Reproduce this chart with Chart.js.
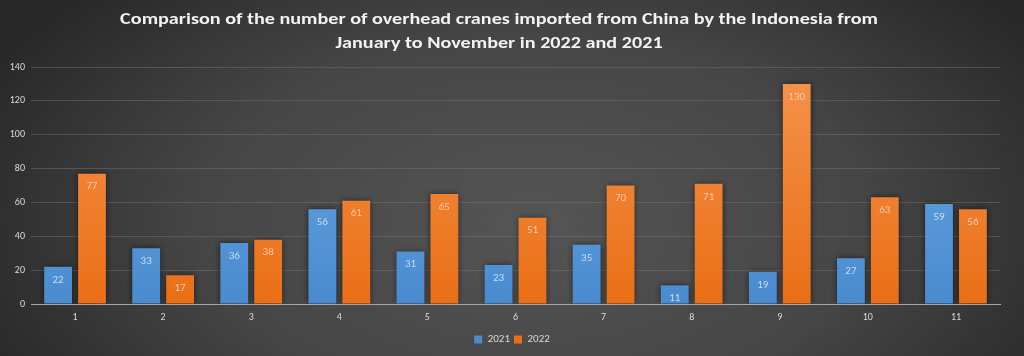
<!DOCTYPE html>
<html><head><meta charset="utf-8">
<script src="https://cdn.jsdelivr.net/npm/chart.js@4.4.0/dist/chart.umd.min.js"></script>
<style>html,body{margin:0;padding:0;background:#3a3a3a;}#wrap{width:1024px;height:356px;}</style>
</head><body><div id="wrap"><canvas id="c" width="1024" height="356"></canvas></div>
<script>
const categories = ['1','2','3','4','5','6','7','8','9','10','11'];
const series2021 = [22,33,36,56,31,23,35,11,19,27,59];
const series2022 = [77,17,38,61,65,51,70,71,130,63,56];
const seriesNames = ['2021','2022'];
const titleLines = ['Comparison of the number of overhead cranes imported from China by the Indonesia from','January to November in 2022 and 2021'];
const FONT = '"Carlito","Open Sans",sans-serif';

const bgPlugin = {
  id:'bg',
  beforeDraw(chart){
    const {ctx,width,height} = chart;
    ctx.save();
    ctx.fillStyle = '#2b2b2b';
    ctx.fillRect(0,0,width,height);
    ctx.translate(width*0.52, height*0.62);
    ctx.scale(1, height/width*1.6);
    const g = ctx.createRadialGradient(0,0,0,0,0,width*0.6);
    g.addColorStop(0,'#555555');
    g.addColorStop(0.55,'#454545');
    g.addColorStop(1,'#272727');
    ctx.fillStyle = g;
    ctx.fillRect(-width, -width, width*2, width*2);
    ctx.restore();
  }
};
const titlePlugin = {
  id:'ttl',
  afterDraw(chart){
    const ctx = chart.ctx;
    ctx.save();
    ctx.fillStyle = '#f2f2f2';
    ctx.font = 'bold 16px ' + FONT;
    ctx.textAlign = 'center';
    ctx.textBaseline = 'middle';
    const ys = [20, 44];
    titleLines.forEach((t,i)=>{
      ctx.save();
      ctx.translate(499, ys[i]);
      ctx.scale(1.26,1);
      ctx.fillText(t, 0, 0);
      ctx.restore();
    });
    ctx.restore();
  }
};
const shadowPlugin = {
  id:'shadow',
  beforeDatasetsDraw(chart){
    chart.ctx.save();
    chart.ctx.shadowColor='rgba(0,0,0,0.55)';
    chart.ctx.shadowBlur=6;
    chart.ctx.shadowOffsetX=0;
    chart.ctx.shadowOffsetY=0;
  },
  afterDatasetsDraw(chart){
    chart.ctx.restore();
    const ctx = chart.ctx;
    ctx.save();
    ctx.font = '11px ' + FONT;
    ctx.textAlign='center';
    ctx.textBaseline='middle';
    chart.data.datasets.forEach((ds,i)=>{
      const meta = chart.getDatasetMeta(i);
      ctx.fillStyle = i===0 ? 'rgba(220,232,246,0.85)' : 'rgba(250,212,185,0.9)';
      meta.data.forEach((bar,j)=>{
        ctx.fillText(String(ds.data[j]), bar.x, bar.y + 13);
      });
    });
    ctx.restore();
  }
};
function grad(c1,c2){
  return (context)=>{
    const ca = context.chart.chartArea;
    if(!ca) return c1;
    const g = context.chart.ctx.createLinearGradient(0,ca.top,0,ca.bottom);
    g.addColorStop(0,c1); g.addColorStop(1,c2);
    return g;
  };
}
new Chart(document.getElementById('c'),{
  type:'bar',
  data:{
    labels:categories,
    datasets:[
      {label:seriesNames[0],data:series2021,backgroundColor:grad('#6aaae6','#4a8bcf'),borderWidth:0,categoryPercentage:0.77,barPercentage:0.82},
      {label:seriesNames[1],data:series2022,backgroundColor:grad('#f5934c','#ea6f16'),borderWidth:0,categoryPercentage:0.77,barPercentage:0.82}
    ]
  },
  options:{
    responsive:false,
    animation:false,
    devicePixelRatio:1,
    layout:{padding:{left:0,right:0,top:67,bottom:1}},
    plugins:{
      title:{display:false},
      legend:{position:'bottom',labels:{color:'#d9d9d9',boxWidth:8,boxHeight:8,padding:4,font:{family:FONT,size:11}}},
      tooltip:{enabled:false}
    },
    scales:{
      x:{
        grid:{display:false,drawTicks:false},
        border:{display:true,color:'#a6a6a6',width:1},
        ticks:{color:'#d9d9d9',font:{family:FONT,size:10},padding:7}
      },
      y:{
        min:0,max:140,
        afterFit(s){s.width=31;},
        grid:{color:'rgba(120,120,120,0.45)',drawTicks:false},
        border:{display:false},
        ticks:{stepSize:20,color:'#d9d9d9',font:{family:FONT,size:10},padding:6}
      },
      yR:{
        position:'right',
        min:0,max:140,
        afterFit(s){s.width=24;},
        grid:{display:false,drawTicks:false},
        border:{display:false},
        ticks:{display:false}
      }
    }
  },
  plugins:[bgPlugin,shadowPlugin,titlePlugin]
});
</script></body></html>
